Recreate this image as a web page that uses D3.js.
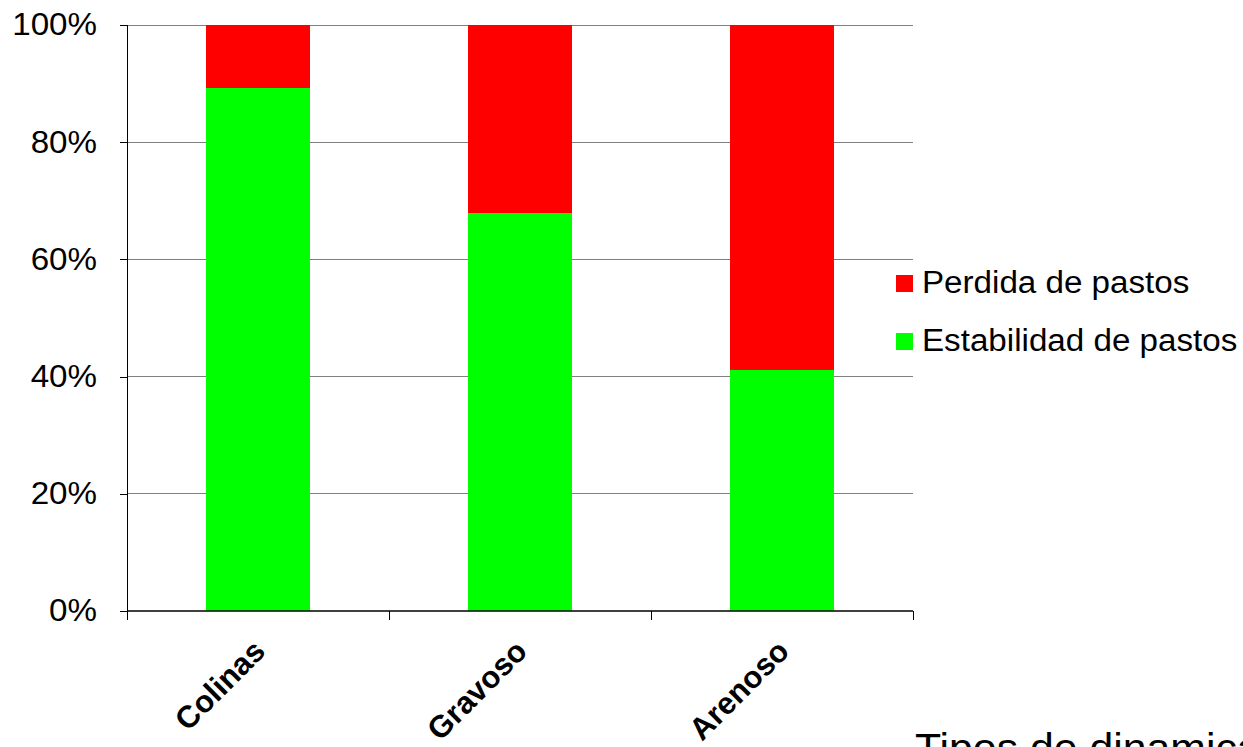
<!DOCTYPE html>
<html>
<head>
<meta charset="utf-8">
<script src="https://cdn.jsdelivr.net/npm/d3@7"></script>
<style>
  html, body { margin: 0; padding: 0; background: #fff; overflow: hidden; }
  svg { display: block; font-family: "Liberation Sans", Arial, sans-serif; }
</style>
</head>
<body>
<svg id="chart" width="1243" height="747"></svg>
<script>
// Soil types and the share of pasture stability / loss in each
const categories = ["Colinas", "Gravoso", "Arenoso"];
const estabilidad = [89.3, 68.0, 41.2];
const perdida = [10.7, 32.0, 58.8];
const seriesNames = ["Estabilidad de pastos", "Perdida de pastos"];
const seriesColors = ["#00ff00", "#ff0000"];
const yTicks = [0, 20, 40, 60, 80, 100];
const legendOrder = ["Perdida de pastos", "Estabilidad de pastos"];

const svg = d3.select("#chart");
const plotLeft = 127, plotRight = 913, plotTop = 25, plotBottom = 611;
const stretch = 1.07; // text is set slightly wide

const x = d3.scaleBand().domain(categories).range([plotLeft, plotRight]).paddingInner(0.6).paddingOuter(0.3);
const xTickScale = d3.scaleLinear().domain([0, categories.length]).range([plotLeft, plotRight]);
const y = d3.scaleLinear().domain([0, 100]).range([plotBottom, plotTop]);

// horizontal gridlines
svg.append("g").selectAll("line").data(yTicks.filter(d => d > 0)).join("line")
  .attr("x1", plotLeft).attr("x2", plotRight)
  .attr("y1", d => y(d)).attr("y2", d => y(d))
  .attr("stroke", "#808080").attr("stroke-width", 1).attr("shape-rendering", "crispEdges");

// stacked bars
const rows = categories.map((c, i) => ({ cat: c, e: estabilidad[i], p: perdida[i] }));
const stack = d3.stack().keys(["e", "p"])(rows);
svg.append("g").selectAll("g").data(stack).join("g")
  .attr("fill", (d, i) => seriesColors[i])
  .selectAll("rect").data(d => d).join("rect")
  .attr("x", d => x(d.data.cat))
  .attr("width", x.bandwidth())
  .attr("y", d => y(d[1]))
  .attr("height", d => y(d[0]) - y(d[1]))
  .attr("shape-rendering", "crispEdges");

// y axis
const yAxis = svg.append("g").attr("transform", `translate(${plotLeft},0)`)
  .call(d3.axisLeft(y).tickValues(yTicks).tickFormat(d => d + "%").tickSize(7).tickPadding(21));
yAxis.select(".domain").attr("stroke", "#000").attr("shape-rendering", "crispEdges");
yAxis.selectAll(".tick line").attr("stroke", "#000").attr("shape-rendering", "crispEdges");
yAxis.selectAll("text").attr("font-size", 31).attr("fill", "#000")
  .attr("font-family", "Liberation Sans, Arial, sans-serif")
  .attr("transform", `scale(${stretch},1)`);

// x axis line and category separators
const xg = svg.append("g");
xg.append("line").attr("x1", plotLeft).attr("x2", plotRight).attr("y1", plotBottom).attr("y2", plotBottom)
  .attr("stroke", "#000").attr("stroke-width", 1.5);
xg.selectAll("line.sep").data(d3.range(categories.length + 1)).join("line").attr("class", "sep")
  .attr("x1", d => xTickScale(d)).attr("x2", d => xTickScale(d))
  .attr("y1", plotBottom).attr("y2", plotBottom + 9)
  .attr("stroke", "#000").attr("shape-rendering", "crispEdges");

// rotated category labels
xg.selectAll("text.cat").data(categories).join("text").attr("class", "cat")
  .attr("transform", d => `translate(${x(d) + x.bandwidth() / 2 + 9},${plotBottom + 42}) rotate(-45)`)
  .attr("text-anchor", "end")
  .attr("font-size", 31).attr("font-weight", "bold").attr("fill", "#000")
  .text(d => d);

// legend
const lg = svg.append("g");
legendOrder.forEach((name, i) => {
  const color = seriesColors[seriesNames.indexOf(name)];
  const gy = 275 + i * 58;
  lg.append("rect").attr("x", 896).attr("y", gy).attr("width", 17).attr("height", 17).attr("fill", color);
  lg.append("text").attr("transform", `translate(922,${gy + 18}) scale(${stretch},1)`)
    .attr("font-size", 31).attr("fill", "#000").text(name);
});

// axis title, partly off the page
svg.append("text").attr("transform", `translate(915,762) scale(${stretch},1)`)
  .attr("font-size", 40).attr("fill", "#000")
  .text("Tipos de dinamica");
</script>
</body>
</html>
